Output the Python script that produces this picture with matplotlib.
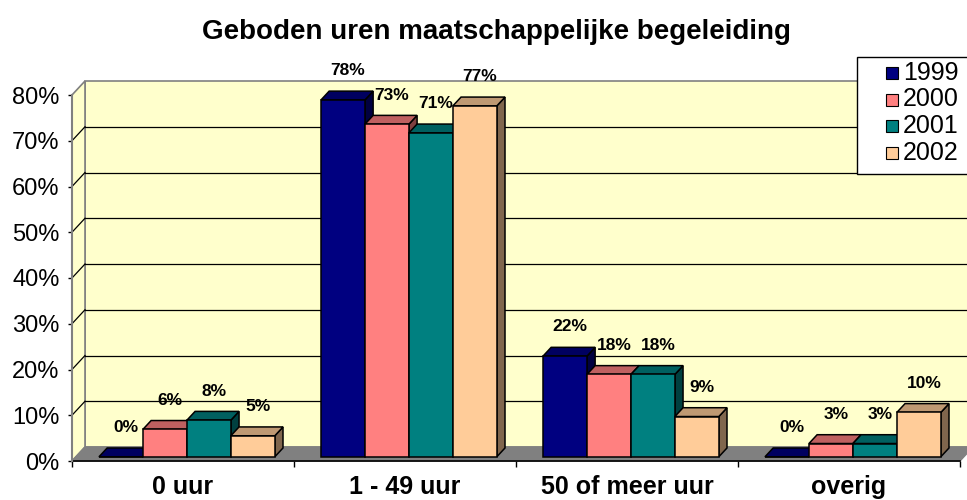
import matplotlib
matplotlib.use("Agg")
import matplotlib.pyplot as plt
from matplotlib.patches import Polygon, Rectangle
from matplotlib.colors import to_rgb

plt.rcParams['font.family'] = ['Liberation Sans', 'DejaVu Sans']

categories = ["0 uur", "1 - 49 uur", "50 of meer uur", "overig"]
years = ["1999", "2000", "2001", "2002"]
v1999 = [0, 78, 22, 0]
v2000 = [6, 72.7, 18, 2.9]
v2001 = [8, 70.8, 18, 2.9]
v2002 = [4.6, 76.7, 8.8, 9.7]
series = [v1999, v2000, v2001, v2002]
colors = ["#000080", "#FF8080", "#008080", "#FFCC99"]
yticks = [0, 10, 20, 30, 40, 50, 60, 70, 80]

W, H = 967, 500


def fx(px):
    return px / W


def fy(py):
    return 1 - py / H


def shade(c, k):
    r, g, b = to_rgb(c)
    return (r * k, g * k, b * k)


fig = plt.figure(figsize=(W / 100, H / 100), dpi=100)
fig.patch.set_facecolor("white")

# front plane of the plot: x 72..960 px, y 461 (0%) .. 95 (80%)
ax = fig.add_axes([fx(72), fy(461), fx(960) - fx(72), fy(95) - fy(461)])
ax.set_xlim(0, len(categories))
ax.set_ylim(0, 80)
for s in ax.spines.values():
    s.set_visible(False)
ax.patch.set_visible(False)

px_x = 888 / len(categories)      # pixels per category
px_y = (461 - 95) / 80            # pixels per percent
DX = 13 / px_x                    # depth shift of the back wall
DY = 14 / px_y
ymax = 80
ncat = len(categories)

# walls and floor
back = Rectangle((DX, DY), ncat, ymax, facecolor="#FFFFCC", edgecolor="#808080",
                 lw=1.2, clip_on=False, zorder=1)
ax.add_patch(back)
left = Polygon([(0, 0), (DX, DY), (DX, DY + ymax), (0, ymax)], closed=True,
               facecolor="#FFFFCC", edgecolor="#808080", lw=1.2, clip_on=False, zorder=1)
ax.add_patch(left)
for t in yticks[1:-1]:
    ax.plot([DX, ncat + DX], [t + DY, t + DY], color="black", lw=0.9, clip_on=False, zorder=2)
    ax.plot([0, DX], [t, t + DY], color="black", lw=0.9, clip_on=False, zorder=2)
floor = Polygon([(0, 0), (ncat, 0), (ncat + DX, DY), (DX, DY)], closed=True,
                facecolor="#808080", edgecolor="#808080", lw=1, clip_on=False, zorder=2)
ax.add_patch(floor)
ax.plot([0, ncat], [0, 0], color="black", lw=1.2, clip_on=False, zorder=3)
ax.plot([0, 0], [0, ymax], color="#808080", lw=1.5, clip_on=False, zorder=3)

# 3D bars
f0, f1 = 0.3, 0.93
bw = 0.198
gap = (1 - bw * len(series)) / 2
ddx, ddy = (f1 - f0) * DX, (f1 - f0) * DY
z = 10
for i in range(ncat):
    for j, vals in enumerate(series):
        h = vals[i]
        x0 = i + gap + j * bw + f0 * DX
        y0 = f0 * DY
        c = colors[j]
        side = Polygon([(x0 + bw, y0), (x0 + bw + ddx, y0 + ddy),
                        (x0 + bw + ddx, y0 + h + ddy), (x0 + bw, y0 + h)],
                       closed=True, facecolor=shade(c, 0.5), edgecolor="black",
                       lw=1.1, clip_on=False, zorder=z)
        top = Polygon([(x0, y0 + h), (x0 + bw, y0 + h),
                       (x0 + bw + ddx, y0 + h + ddy), (x0 + ddx, y0 + h + ddy)],
                      closed=True, facecolor=shade(c, 0.75), edgecolor="black",
                      lw=1.1, clip_on=False, zorder=z + 1)
        front = Rectangle((x0, y0), bw, h, facecolor=c, edgecolor="black",
                          lw=1.1, clip_on=False, zorder=z + 2)
        ax.add_patch(side)
        ax.add_patch(top)
        ax.add_patch(front)
        z += 3
        ax.annotate(f"{round(h):.0f}%", xy=(x0 + bw / 2, y0 + h),
                    xytext=(3.6, 21), textcoords="offset points",
                    ha="center", va="center", fontsize=12.5, fontweight="bold",
                    zorder=200, annotation_clip=False)

# axes ticks and labels
ax.set_yticks(yticks)
ax.set_yticklabels([f"{t}%" for t in yticks], fontsize=17)
ax.tick_params(axis="y", length=3, width=1, pad=6, color="black")
ax.set_xticks(range(ncat + 1))
ax.set_xticklabels([])
ax.tick_params(axis="x", which="major", length=4, width=1, color="black")
ax.set_xticks([i + 0.5 for i in range(ncat)], minor=True)
ax.set_xticklabels(categories, minor=True, fontsize=18, fontweight="bold")
ax.tick_params(axis="x", which="minor", length=0, pad=10)

fig.text(fx(496), fy(32), "Geboden uren maatschappelijke begeleiding",
         ha="center", va="center", fontsize=20, fontweight="bold")

# legend box (cut off at the right edge like the original)
lax = fig.add_axes([0, 0, 1, 1], zorder=300)
lax.set_xlim(0, W)
lax.set_ylim(H, 0)
lax.axis("off")
lax.add_patch(Rectangle((857, 57), 160, 117, facecolor="white", edgecolor="black", lw=1))
rows = [73, 99.5, 126, 152.5]
for yr, c, ry in zip(years, colors, rows):
    lax.add_patch(Rectangle((886, ry - 6), 12, 12, facecolor=c, edgecolor="black", lw=0.8))
    lax.text(903, ry, yr, ha="left", va="center", fontsize=18)

fig.savefig("out.png", dpi=100)
